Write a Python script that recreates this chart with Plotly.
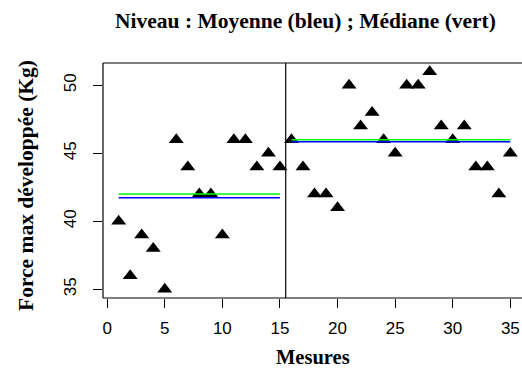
import plotly.graph_objects as go
import numpy as np

mesures = list(range(1, 36))
force = [40, 36, 39, 38, 35, 46, 44, 42, 42, 39, 46, 46, 44, 45, 44,
         46, 44, 42, 42, 41, 50, 47, 48, 46, 45, 50, 50, 51, 47, 46, 47, 44, 44, 42, 45]
split_after = 15
x_ticks = [0, 5, 10, 15, 20, 25, 30, 35]
y_ticks = [35, 40, 45, 50]

g1 = force[:split_after]
g2 = force[split_after:]
x1 = mesures[:split_after]
x2 = mesures[split_after:]

W, H = 522, 371
L, R, T, B = 103, 0, 63, 73

fig = go.Figure()
fig.add_trace(go.Scatter(x=mesures, y=force, mode="markers",
                         marker=dict(symbol="triangle-up", size=13, color="black"),
                         showlegend=False, hoverinfo="skip"))
for xs, g in ((x1, g1), (x2, g2)):
    fig.add_trace(go.Scatter(x=[xs[0], xs[-1]], y=[np.median(g)] * 2, mode="lines",
                             line=dict(color="#00ff00", width=1.5), showlegend=False))
    fig.add_trace(go.Scatter(x=[xs[0], xs[-1]], y=[np.mean(g)] * 2, mode="lines",
                             line=dict(color="#0000ff", width=1.5), showlegend=False))

# separator
fig.add_shape(type="line", xref="x", yref="paper", x0=split_after + 0.5, x1=split_after + 0.5,
              y0=0, y1=1, line=dict(color="black", width=1.2))
# box (right side is outside the image)
for (x0, y0, x1_, y1_) in ((0, 0, 1, 0), (0, 1, 1, 1), (0, 0, 0, 1)):
    fig.add_shape(type="line", xref="paper", yref="paper", x0=x0, y0=y0, x1=x1_, y1=y1_,
                  line=dict(color="black", width=1.2))

px_per_x = 11.52
xmin = -0.36
xmax = xmin + (W - L - R) / px_per_x

tickfont = dict(family="Liberation Sans", size=17, color="black")
fig.update_xaxes(range=[xmin, xmax], tickvals=x_ticks, ticks="outside", ticklen=9,
                 tickwidth=1.2, tickcolor="black", showgrid=False, zeroline=False,
                 showline=False, tickfont=tickfont, ticklabelstandoff=6)
fig.update_yaxes(range=[34.36, 51.64], tickvals=y_ticks, ticks="outside", ticklen=9,
                 tickwidth=1.2, tickcolor="black", showgrid=False, zeroline=False,
                 showline=False, tickfont=tickfont, tickangle=-90, ticklabelstandoff=10)

serif = dict(family="Liberation Serif", size=21.5, color="black")
fig.add_annotation(text="<b>Niveau : Moyenne (bleu) ; Médiane (vert)</b>", xref="paper", yref="paper",
                   x=(305 - L) / (W - L - R), y=1, yanchor="middle", yshift=T - 21,
                   showarrow=False, font=serif)
fig.add_annotation(text="<b>Mesures</b>", xref="paper", yref="paper", x=0.5, y=0,
                   yanchor="middle", yshift=-(357 - (H - B)), showarrow=False,
                   font=dict(family="Liberation Serif", size=20.5, color="black"))
fig.add_annotation(text="<b>Force max développée (Kg)</b>", xref="paper", yref="paper",
                   x=0, y=(H - B - 186) / (H - T - B), xanchor="center", xshift=26 - L,
                   textangle=-90, showarrow=False, font=serif)

fig.update_layout(width=W, height=H, margin=dict(l=L, r=R, t=T, b=B),
                  plot_bgcolor="white", paper_bgcolor="white")
fig.write_html("out.html")
